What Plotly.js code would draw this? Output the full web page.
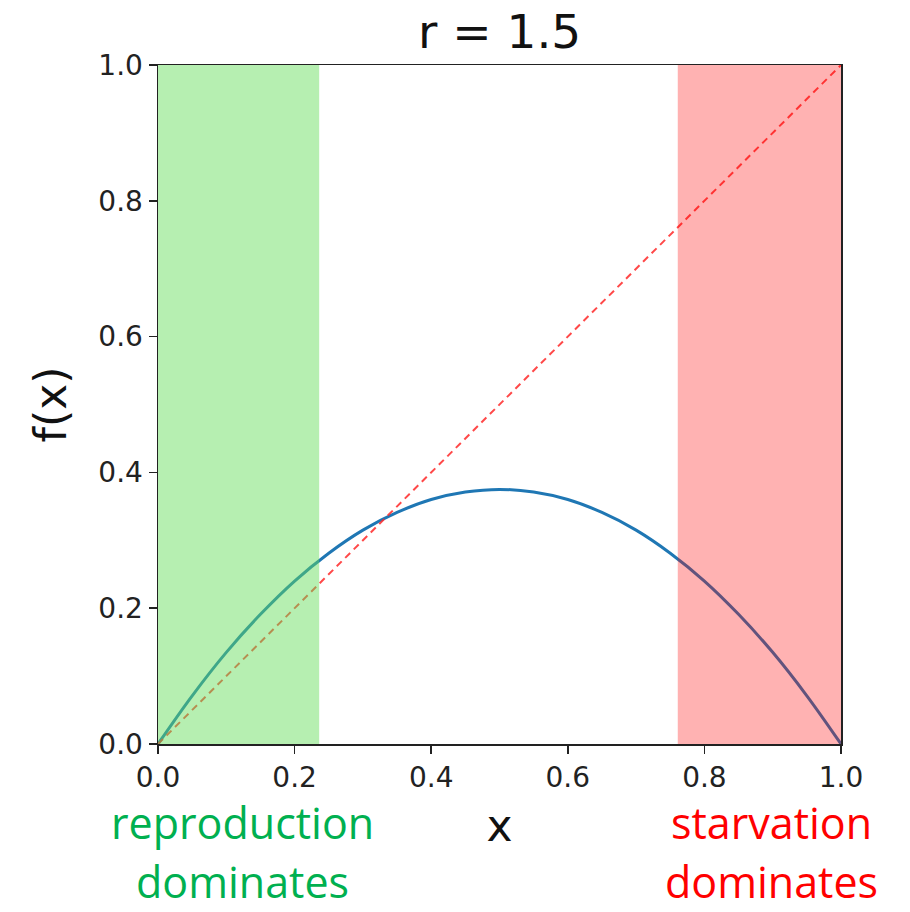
<!DOCTYPE html>
<html><head><meta charset="utf-8">
<script src="https://cdn.plot.ly/plotly-3.0.1.min.js"></script>
<style>body{margin:0;background:#fff}#c{width:910px;height:912px}</style>
</head><body><div id="c"></div>
<script>
// curve f(x)
var curveX = [0,0.05,0.1,0.15,0.2,0.25,0.3,0.35,0.4,0.45,0.5,0.55,0.6,0.65,0.7,0.75,0.8,0.85,0.9,0.95,1.0];
var curveY = [0,0.071,0.135,0.191,0.24,0.281,0.315,0.341,0.36,0.371,0.375,0.371,0.36,0.341,0.315,0.281,0.24,0.191,0.135,0.071,0];
var diagX = [0,1];
var diagY = [0,1];
var greenBand = [0,0.236];
var redBand = [0.761,1.0];
var tickVals = [0,0.2,0.4,0.6,0.8,1.0];
var tickText = ["0.0","0.2","0.4","0.6","0.8","1.0"];
var titleText = "r = 1.5";
var leftNoteLines = ["reproduction", "dominates"];
var rightNoteLines = ["starvation", "dominates"];

var traces = [
  {x: curveX, y: curveY, mode:'lines', line:{color:'#1f77b4', width:3, shape:'spline'}, hoverinfo:'skip'},
  {x: diagX, y: diagY, mode:'lines', line:{color:'rgba(255,40,40,0.85)', width:2, dash:'7px,5px'}, hoverinfo:'skip'}
];
var tickfont = {family:'DejaVu Sans', size:28, color:'#222'};
var axisCommon = {range:[0,1], tickvals:tickVals, ticktext:tickText, ticks:'outside', ticklen:8, tickwidth:1.5,
  tickcolor:'#222', showline:true, linecolor:'#222', linewidth:1.5, mirror:true, showgrid:false, zeroline:false,
  tickfont:tickfont, fixedrange:true};
var lineYs = [-0.1163, -0.2032];
var annotations = [];
function addNote(lines, xc, color) {
  lines.forEach(function(t, i) {
    annotations.push({text:t, xref:'x', yref:'paper', x:xc, y:lineYs[i], xanchor:'center', yanchor:'middle',
      showarrow:false, borderpad:0, font:{family:'Open Sans', size:43, color:color}});
  });
}
addNote(leftNoteLines, 0.123, '#00b050');
addNote(rightNoteLines, 0.898, '#ff0000');
var layout = {
  width:910, height:912, showlegend:false, paper_bgcolor:'#fff', plot_bgcolor:'#fff',
  margin:{l:158, r:69, t:65, b:168},
  title:{text:titleText, font:{family:'DejaVu Sans', size:47, color:'#111'}, x:0.549, xanchor:'center', y:0.965, yanchor:'middle'},
  xaxis: Object.assign({}, axisCommon, {title:{text:'x', font:{family:'DejaVu Sans', size:44, color:'#111'}, standoff:17}}),
  yaxis: Object.assign({}, axisCommon, {title:{text:'f(x)', font:{family:'DejaVu Sans', size:44, color:'#111'}, standoff:18}}),
  shapes:[
    {type:'rect', xref:'x', yref:'y', x0:greenBand[0], x1:greenBand[1], y0:0, y1:1, fillcolor:'rgba(100,220,90,0.47)', line:{width:0}, layer:'above'},
    {type:'rect', xref:'x', yref:'y', x0:redBand[0], x1:redBand[1], y0:0, y1:1, fillcolor:'rgba(255,0,0,0.3)', line:{width:0}, layer:'above'}
  ],
  annotations: annotations
};
Plotly.newPlot('c', traces, layout, {staticPlot:true, displayModeBar:false});
</script></body></html>
